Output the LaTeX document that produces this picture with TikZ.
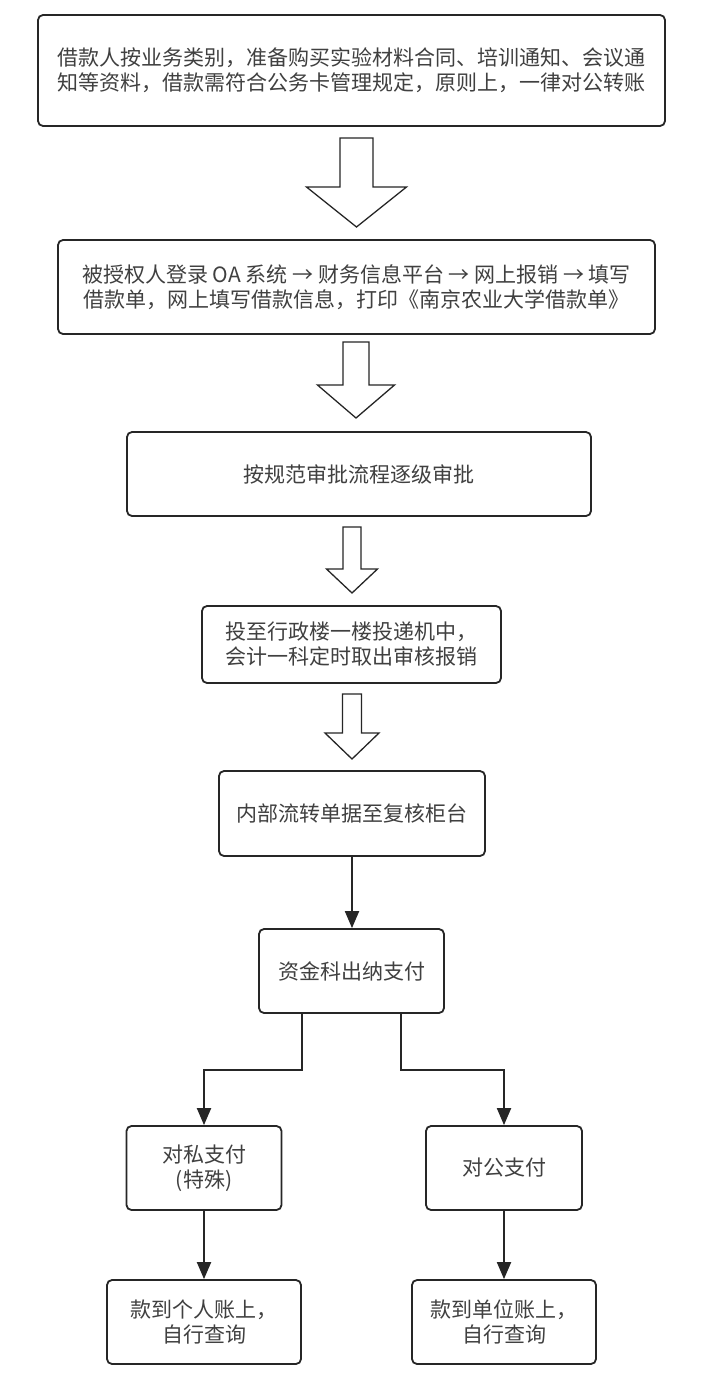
\documentclass[tikz,border=0pt]{standalone}
\usepackage{fontspec}
\setmainfont{Noto Sans CJK SC}
\usetikzlibrary{arrows.meta}
\newcommand\blkarrow[7]{% #1 cx, #2 top, #3 base, #4 tip, #5 shaft half, #6 head half, #7 name
  \draw[barrow] (#1-#5,#2) coordinate (#7) -- (#1+#5,#2) -- (#1+#5,#3) -- (#1+#6,#3) -- (#1,#4)
    -- (#1-#6,#3) -- (#1-#5,#3) -- cycle;}
\begin{document}
\begin{tikzpicture}[x=1pt,y=-1pt,
  box/.style={draw=black!85, line width=1.8pt, rounded corners=5pt, fill=white,
    inner sep=0pt, align=center, text=black!75,
    font=\fontsize{21}{25}\selectfont},
  conn/.style={draw=black!85, line width=2pt, -{Triangle[length=17pt,width=14pt]}},
  barrow/.style={draw=black!85, line width=1.3pt, fill=white, line join=miter}]
\useasboundingbox[fill=white] (0,0) rectangle (717,1386);

\node[box, minimum width=627pt, minimum height=111pt] (b1) at (351.5,70.5)
  {借款人按业务类别，准备购买实验材料合同、培训通知、会议通\\知等资料，借款需符合公务卡管理规定，原则上，一律对公转账};
\node[box, minimum width=597pt, minimum height=94pt] (b2) at (356.5,287)
  {被授权人登录 OA 系统 → 财务信息平台 → 网上报销 → 填写\\借款单，网上填写借款信息，打印《南京农业大学借款单》};
\node[box, minimum width=464pt, minimum height=84pt] (b3) at (359,474)
  {按规范审批流程逐级审批};
\node[box, minimum width=299pt, minimum height=77pt] (b4) at (351.5,644.5)
  {投至行政楼一楼投递机中，\\会计一科定时取出审核报销};
\node[box, minimum width=266pt, minimum height=85pt] (b5) at (352,813.5)
  {内部流转单据至复核柜台};
\node[box, minimum width=185pt, minimum height=84pt] (b6) at (351.5,971)
  {资金科出纳支付};
\node[box, minimum width=155pt, minimum height=84pt] (b7) at (204,1168)
  {对私支付\\(特殊)};
\node[box, minimum width=156pt, minimum height=84pt] (b8) at (504,1168)
  {对公支付};
\node[box, minimum width=194pt, minimum height=84pt] (b9) at (204,1322)
  {款到个人账上，\\自行查询};
\node[box, minimum width=184pt, minimum height=84pt] (b10) at (504,1322)
  {款到单位账上，\\自行查询};

\blkarrow{356.5}{138}{187}{227}{16.5}{50}{a1}
\blkarrow{356}{342}{385}{418}{13}{38.5}{a2}
\blkarrow{352}{527}{569}{593}{9}{25.5}{a3}
\blkarrow{352}{694}{733}{759}{9.5}{27}{a4}

\draw[conn] (b5.south) -- (b6.north -| b5.south);
\coordinate (l1) at (302,1070);
\coordinate (r1) at (401,1070);
\draw[conn] (b6.south -| l1) -- (l1) -| (b7.north);
\draw[conn] (b6.south -| r1) -- (r1) -| (b8.north);
\draw[conn] (b7.south) -- (b9.north);
\draw[conn] (b8.south) -- (b10.north);
\end{tikzpicture}
\end{document}
